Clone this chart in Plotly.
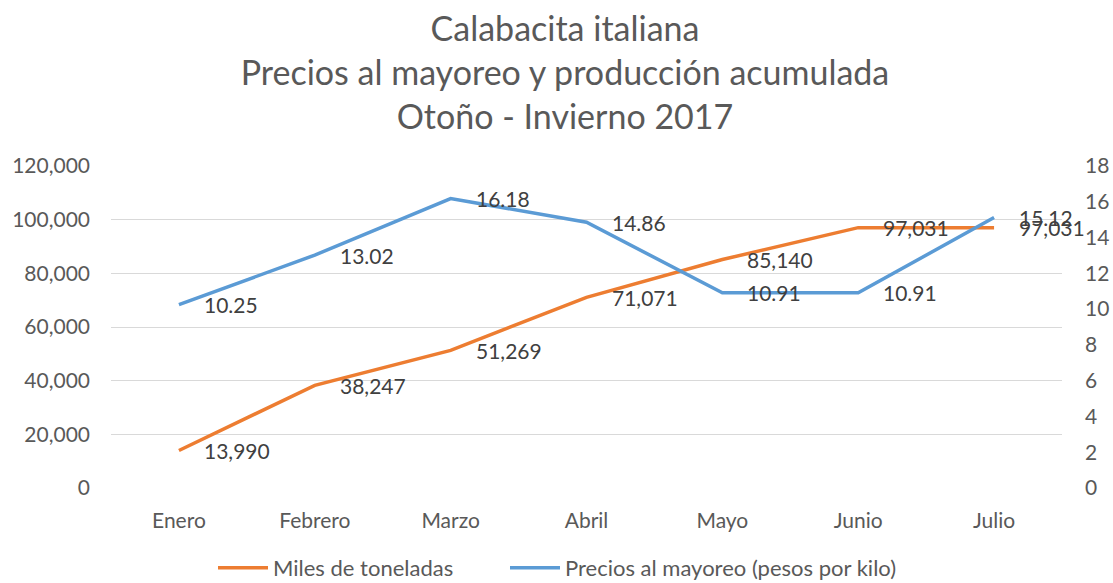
import plotly.graph_objects as go

meses = ["Enero", "Febrero", "Marzo", "Abril", "Mayo", "Junio", "Julio"]
miles_toneladas = [13990, 38247, 51269, 71071, 85140, 97031, 97031]
precios = [10.25, 13.02, 16.18, 14.86, 10.91, 10.91, 15.12]

left_ticks = [0, 20000, 40000, 60000, 80000, 100000, 120000]
right_ticks = [0, 2, 4, 6, 8, 10, 12, 14, 16, 18]

ORANGE = "#ED7D31"
BLUE = "#5B9BD5"
GRAY = "#595959"
LABEL = "#404040"
FONT = "Lato, 'Open Sans', sans-serif"

W, H = 1113, 583

fig = go.Figure()
fig.add_trace(go.Scatter(
    x=meses, y=miles_toneladas, name="Miles de toneladas", mode="lines",
    line=dict(color=ORANGE, width=3.5), yaxis="y", legend="legend"))
fig.add_trace(go.Scatter(
    x=meses, y=precios, name="Precios al mayoreo (pesos por kilo)", mode="lines",
    line=dict(color=BLUE, width=3.5), yaxis="y2", legend="legend2"))

annotations = []
for m, v in zip(meses, miles_toneladas):
    annotations.append(dict(x=m, y=v, xref="x", yref="y", text=f"{v:,}",
                            showarrow=False, xanchor="left", yanchor="middle",
                            xshift=23, font=dict(size=21, color=LABEL, family=FONT)))
for m, v in zip(meses, precios):
    annotations.append(dict(x=m, y=v, xref="x", yref="y2", text=f"{v:.2f}",
                            showarrow=False, xanchor="left", yanchor="middle",
                            xshift=23, font=dict(size=21, color=LABEL, family=FONT)))

legend_common = dict(orientation="h", xanchor="left", xref="container",
                     y=1 - 568 / H, yanchor="middle", yref="container",
                     font=dict(size=22, color=GRAY), itemwidth=50,
                     bgcolor="rgba(0,0,0,0)")

fig.update_layout(
    width=W, height=H,
    margin=dict(l=111, r=W - 1062, t=166, b=H - 488, autoexpand=False),
    paper_bgcolor="white", plot_bgcolor="white",
    font=dict(family=FONT, color=GRAY, size=20),
    title=dict(
        text="Calabacita italiana<br>Precios al mayoreo y producción acumulada<br>Otoño - Invierno 2017",
        x=565 / W, xanchor="center", xref="container",
        y=1 - 41 / H, yanchor="middle", yref="container",
        font=dict(size=34, color=GRAY, family=FONT)),
    xaxis=dict(type="category", range=[-0.5, 6.5], showgrid=False, showline=False,
               ticks="", automargin=False, ticklabelstandoff=18,
               tickfont=dict(size=21, color=GRAY)),
    yaxis=dict(range=[0, 120000], tickvals=left_ticks, tickformat=",",
               showgrid=True, gridcolor="#D9D9D9", gridwidth=1, zeroline=False,
               showline=False, ticks="", ticklabelstandoff=20, automargin=False,
               tickfont=dict(size=21, color=GRAY)),
    yaxis2=dict(range=[0, 18], tickvals=right_ticks, overlaying="y", side="right",
                showgrid=False, zeroline=False, showline=False, ticks="",
                ticklabelstandoff=22, automargin=False,
                tickfont=dict(size=21, color=GRAY)),
    legend=dict(x=213 / W, **legend_common),
    legend2=dict(x=505 / W, **legend_common),
    annotations=annotations,
    showlegend=True,
)

fig.write_html(
    "out.html",
    config={"displayModeBar": False},
    post_script="document.body.style.margin='0';document.body.style.overflow='hidden';",
)
